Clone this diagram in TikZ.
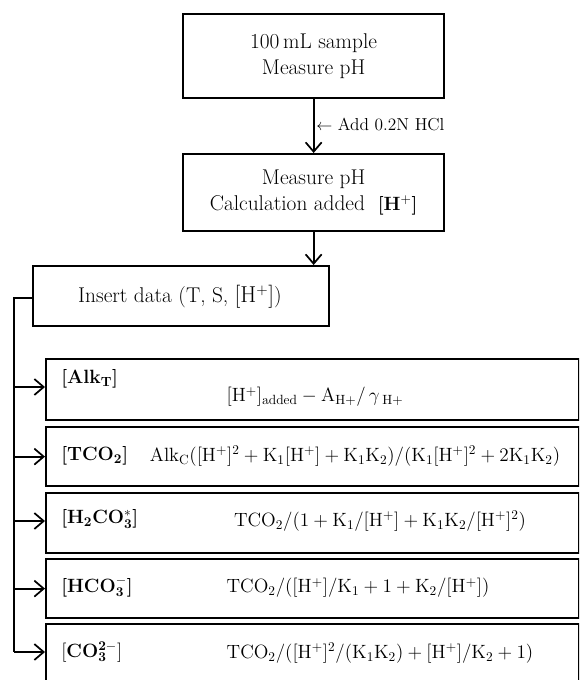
\documentclass[tikz,border=0pt]{standalone}
\usetikzlibrary{arrows.meta}
\newcommand\Hpl{[\mathrm{H}^{+}]}
\newcommand\BHpl{\textbf{[}\mathbf{H}^{\mathbf{+}}\textbf{]}}
\newcommand\blab[1]{\textbf{[}$\mathbf{#1}$\textbf{]}}
\begin{document}
\begin{tikzpicture}[x=0.75pt,y=-0.75pt,
  box/.style={draw,line width=1.7pt,inner sep=0pt,anchor=north west},
  txt/.style={font=\fontsize{16}{19}\selectfont,align=center},
  conn/.style={line width=1.3pt},
  arr/.style={conn,-{Straight Barb[length=7pt,width=12pt,line width=1.3pt]}},
  lbl/.style={anchor=west,font=\fontsize{14}{17}\selectfont,inner sep=0pt},
  frm/.style={font=\fontsize{14.5}{17}\selectfont,inner sep=0pt}]
\useasboundingbox (0,0) rectangle (579,680);
\clip (0,0) rectangle (579,680);
% top boxes
\node[box,minimum width=261*0.75pt,minimum height=84*0.75pt] (b1) at (182,13) {};
\node[txt] (t1) at (b1.center) {100\,mL sample\\Measure pH};
\node[box,minimum width=261*0.75pt,minimum height=77*0.75pt] (b2) at (182,153) {};
\node[txt] (t2) at (b2.center) {Measure pH\\Calculation added\ \ {\fontsize{14}{17}\selectfont$\BHpl$}};
\node[box,minimum width=296*0.75pt,minimum height=60*0.75pt] (b3) at (32,265) {};
\node[txt] (t3) at (180,297) {Insert data\ (T, S, $\Hpl$)};
\draw[arr] (b1.south) -- (b2.north);
\node[lbl,font=\fontsize{13}{15}\selectfont] (add) at (316,124) {$\leftarrow$\ Add 0.2N HCl};
\draw[arr] (b2.south) -- (b2.south |- b3.north);
% result boxes
\node[box,minimum width=533*0.75pt,minimum height=61*0.75pt] (A) at (45,358) {};
\node[box,minimum width=533*0.75pt,minimum height=59*0.75pt] (B) at (45,426) {};
\node[box,minimum width=533*0.75pt,minimum height=60*0.75pt] (C) at (45,492) {};
\node[box,minimum width=533*0.75pt,minimum height=59*0.75pt] (D) at (45,558) {};
\node[box,minimum width=533*0.75pt,minimum height=62*0.75pt] (E) at (45,623) {};
% labels
\node[lbl] (la) at (61,379) {\blab{Alk_T}};
\node[lbl] (lb) at (61,456) {\blab{TCO_2}};
\node[lbl] (lc) at (61,519) {\blab{H_2CO_3^{*}}};
\node[lbl] (ld) at (61,587) {\blab{HCO_3^{-}}};
\node[lbl] (le) at (61,652) {$\bigl[\mathbf{CO_3^{2-}}\bigr]$};
% formulas
\node[frm] (fa) at (315,397) {$\Hpl_{\mathrm{added}} - \mathrm{A}_{\mathrm{H+}}/\,\gamma_{\;\mathrm{H+}}$};
\node[frm] (fb) at (355,456) {$\mathrm{Alk_C}(\Hpl^2 + \mathrm{K_1}\Hpl + \mathrm{K_1K_2})/(\mathrm{K_1}\Hpl^2 + 2\mathrm{K_1K_2})$};
\node[frm] (fc) at (380,521) {$\mathrm{TCO_2}/(1 + \mathrm{K_1}/\Hpl + \mathrm{K_1K_2}/\Hpl^2)$};
\node[frm] (fd) at (358,588) {$\mathrm{TCO_2}/(\Hpl/\mathrm{K_1} + 1 + \mathrm{K_2}/\Hpl)$};
\node[frm] (fe) at (380,653) {$\mathrm{TCO_2}/(\Hpl^2/(\mathrm{K_1K_2}) + \Hpl/\mathrm{K_2} + 1)$};
% branch
\coordinate (tr) at (14,298);
\coordinate (tb) at (14,652);
\draw[conn] (b3.west |- tr) -- (tr) -- (tb);
\draw[arr] (tr |- 0,387) -- (A.west |- 0,387);
\draw[arr] (tr |- B.west) -- (B.west);
\draw[arr] (tr |- fc.west) -- (C.west |- fc.west);
\draw[arr] (tr |- D.west) -- (D.west);
\draw[arr] (tb) -- (E.west |- tb);
\end{tikzpicture}
\end{document}
